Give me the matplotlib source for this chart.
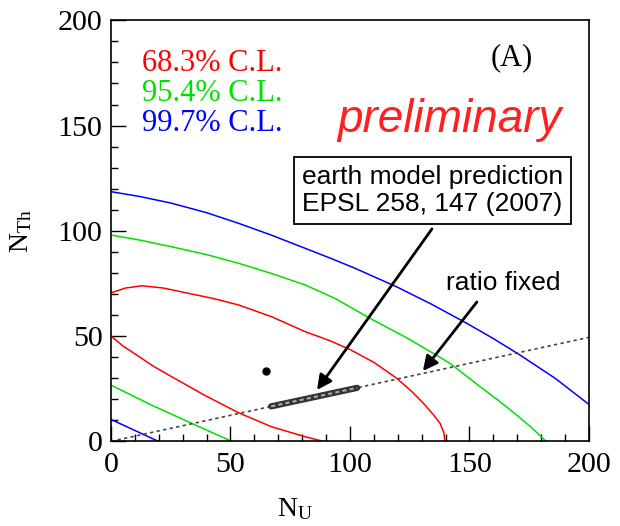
import matplotlib
matplotlib.use('Agg')
import matplotlib.pyplot as plt
from matplotlib.ticker import MultipleLocator

plt.rcParams['font.family'] = ['Liberation Serif', 'DejaVu Serif']

# contour points (N_U, N_Th)
red_out_x = [0, 6, 13, 22, 32.4, 43, 53.3, 67.2, 81.2, 91.6, 100, 110, 119.5, 126, 130.7, 135, 137.7, 139.3, 139.7]
red_out_y = [70.5, 72.8, 73.9, 72.8, 70.3, 67.8, 64.8, 59.2, 52.1, 47.8, 43.6, 37.5, 30, 23.5, 18.1, 12.5, 8.5, 4, 0]
red_in_x = [0, 5, 11.4, 18, 25.4, 39.3, 53.3, 67.2, 81.2, 88.8]
red_in_y = [50, 45.3, 40.5, 35.5, 30.7, 21.8, 13.6, 6.9, 2.2, 0]

green_out_x = [0, 12, 25.4, 40, 53.3, 67, 81.2, 93.7, 109.7, 124, 137.7, 142.5, 154.4, 162, 169.7, 176, 182]
green_out_y = [98, 95.6, 92.4, 88.7, 84.6, 79.8, 74.3, 67.9, 57.6, 49, 39.9, 36.5, 26, 19.5, 12.5, 6.5, 0]
green_in_x = [0, 17, 33.8, 50.5]
green_in_y = [26.7, 17.2, 8.5, 0]

blue_out_x = [0, 12, 25.4, 40, 53.3, 67, 81.2, 92, 102.1, 119.5, 134, 148.8, 160, 171.1, 186, 200]
blue_out_y = [118.6, 116.3, 113.1, 108.6, 103.6, 98, 91.7, 86.9, 82.2, 73.4, 65.2, 56.1, 48.8, 41, 29.8, 17.5]
blue_in_x = [0, 19.8]
blue_in_y = [10.4, 0]

best_fit = (65, 33.5)
ratio_x = [0, 200]
ratio_y = [0, 49.4]
model_x = [67, 103]
model_y = [16.6, 25.4]

cl_labels = ['68.3% C.L.', '95.4% C.L.', '99.7% C.L.']
cl_colors = ['#ff0000', '#00e000', '#0000ff']

fig = plt.figure(figsize=(6.2, 5.26), dpi=100)
ax = fig.add_axes([0.179, 0.161, 0.771, 0.8004])

ax.plot(red_out_x, red_out_y, color=cl_colors[0], lw=1.1)
ax.plot(red_in_x, red_in_y, color=cl_colors[0], lw=1.1)
ax.plot(green_out_x, green_out_y, color=cl_colors[1], lw=1.1)
ax.plot(green_in_x, green_in_y, color=cl_colors[1], lw=1.1)
ax.plot(blue_out_x, blue_out_y, color=cl_colors[2], lw=1.1)
ax.plot(blue_in_x, blue_in_y, color=cl_colors[2], lw=1.1)

# ratio fixed line + earth model band
ax.plot(ratio_x, ratio_y, color='#444444', lw=1.2, dashes=(2, 2))
ax.plot(model_x, model_y, color='#333333', lw=4.5, solid_capstyle='round')
ax.plot(model_x, model_y, color='#aaaaaa', lw=1.5, dashes=(2, 1.5))

ax.plot(*best_fit, 'o', color='black', ms=5)

# legend-like texts
for i, (lab, c) in enumerate(zip(cl_labels, cl_colors)):
    ax.text(13, 179.7 - i * 14.3, lab, color=c, fontsize=22, ha='left', va='center')

ax.text(167.8, 182, '(A)', fontsize=22, ha='center', va='center')
ax.text(94.6, 146.9, 'preliminary', color='#ff2020', fontsize=33, style='italic',
        family='Liberation Sans', ha='left', va='baseline')

ax.text(134.5, 119.2, 'earth model prediction\nEPSL 258, 147 (2007)', fontsize=19,
        family='Liberation Sans', ha='center', va='center', linespacing=1.15,
        bbox=dict(boxstyle='square,pad=0.3', fc='white', ec='black', lw=1.3))
ax.annotate('', xy=(86.2, 24.4), xytext=(134.3, 100.9),
            arrowprops=dict(arrowstyle='-|>', lw=2, color='black', mutation_scale=22,
                            shrinkA=0, shrinkB=0))

ax.text(164, 75.2, 'ratio fixed', fontsize=19, family='Liberation Sans', ha='center', va='center')
ax.annotate('', xy=(130.5, 33.4), xytext=(153.1, 66.2),
            arrowprops=dict(arrowstyle='-|>', lw=2, color='black', mutation_scale=22,
                            shrinkA=0, shrinkB=0))

ax.set_xlim(0, 200)
ax.set_ylim(0, 200)
ax.xaxis.set_major_locator(MultipleLocator(50))
ax.xaxis.set_minor_locator(MultipleLocator(10))
ax.yaxis.set_major_locator(MultipleLocator(50))
ax.yaxis.set_minor_locator(MultipleLocator(10))
ax.tick_params(which='both', direction='in', top=False, right=False, labelsize=21.6, width=1)
ax.tick_params(axis='x', which='major', length=11, pad=8)
ax.tick_params(axis='y', which='major', length=11, pad=6)
ax.tick_params(which='minor', length=5)
for s in ax.spines.values():
    s.set_linewidth(1.2)

ax.set_xlabel(r'$\mathregular{N_{U}}$', fontsize=20)
ax.set_ylabel(r'$\mathregular{N_{Th}}$', fontsize=20)
ax.xaxis.set_label_coords(0.385, -0.13)
ax.yaxis.set_label_coords(-0.16, 0.5)

fig.savefig('out.png', dpi=100)
